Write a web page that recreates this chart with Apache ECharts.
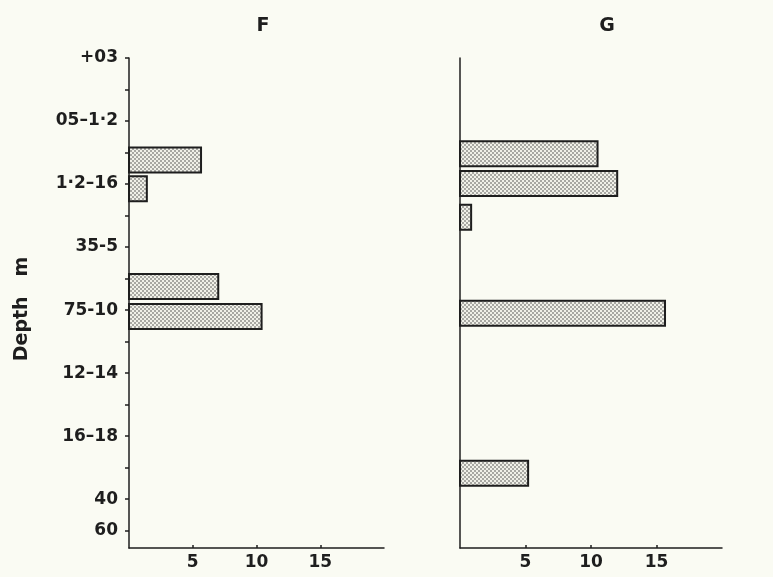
<!DOCTYPE html>
<html>
<head>
<meta charset="utf-8">
<script src="https://cdn.jsdelivr.net/npm/echarts@6/dist/echarts.min.js"></script>
<style>
html,body{margin:0;padding:0;background:#fafbf3;}
#c{width:773px;height:577px;}
</style>
</head>
<body>
<div id="c"></div>
<script>
// ---- data ----
const depthTickLabels = ['+03', '05–1·2', '1·2–16', '35-5', '75-10', '12–14', '16–18', '40', '60'];
const depthTickPos    = [0, 2, 4, 6, 8, 10, 12, 14, 15];
const depthMinorTicks = [0, 1, 2, 3, 4, 5, 6, 7, 8, 9, 10, 11, 12, 13, 14, 15];
const xTickValues     = [5, 10, 15];

const fValues   = [5.65, 1.4, 7.0, 10.4];
const fDepthPos = [3.24, 4.15, 7.25, 8.2];

const gValues   = [10.5, 12.0, 0.85, 15.65, 5.2];
const gDepthPos = [3.04, 3.98, 5.05, 8.1, 13.18];

const panelTitles = ['F', 'G'];
const yAxisTitle = 'Depth   m';

// ---- style ----
const INK = '#1e1e1e';
const FONT = '"DejaVu Sans", "Liberation Sans", Arial, sans-serif';

function makePattern() {
  const c = document.createElement('canvas');
  c.width = 4; c.height = 4;
  const ctx = c.getContext('2d');
  ctx.fillStyle = '#f0f0e8';
  ctx.fillRect(0, 0, 4, 4);
  ctx.fillStyle = '#4a4a4a';
  ctx.beginPath(); ctx.arc(1, 1, 0.8, 0, Math.PI * 2); ctx.fill();
  ctx.beginPath(); ctx.arc(3, 3, 0.8, 0, Math.PI * 2); ctx.fill();
  return c;
}
const pattern = { image: makePattern(), repeat: 'repeat' };

function toPairs(vals, pos) { return vals.map((v, i) => [v, pos[i]]); }

function renderBar(params, api) {
  const v = api.value(0), p = api.value(1);
  const a = api.coord([0, p]);
  const b = api.coord([v, p]);
  const h = 25;
  return {
    type: 'rect',
    shape: { x: a[0], y: a[1] - h / 2, width: b[0] - a[0], height: h },
    style: { fill: pattern, stroke: INK, lineWidth: 2 }
  };
}

const yBase = {
  type: 'value', inverse: true, min: 0, max: 15.55,
  splitLine: { show: false },
  axisLine: { show: true, lineStyle: { color: INK, width: 1.5 } }
};
const xBase = {
  type: 'value', min: 0, max: 20, interval: 5,
  splitLine: { show: false },
  axisLine: { show: true, onZero: false, lineStyle: { color: INK, width: 1.5 } },
  axisTick: { show: true, inside: true, length: 3, customValues: xTickValues, lineStyle: { color: INK, width: 1.5 } },
  axisLabel: {
    customValues: xTickValues, margin: 6,
    fontFamily: FONT, fontWeight: 'bold', fontSize: 17, color: INK
  }
};

const option = {
  backgroundColor: '#fafbf3',
  animation: false,
  grid: [
    { left: 129, top: 58, width: 255, height: 490 },
    { left: 460, top: 58, width: 262, height: 490 }
  ],
  xAxis: [
    Object.assign({ gridIndex: 0 }, xBase),
    Object.assign({ gridIndex: 1 }, xBase)
  ],
  yAxis: [
    Object.assign({ gridIndex: 0 }, yBase, {
      axisTick: { show: true, length: 4, customValues: depthMinorTicks, lineStyle: { color: INK, width: 1.5 } },
      axisLabel: {
        customValues: depthTickPos, margin: 11,
        padding: [0, 0, 8, 0],
        fontFamily: FONT, fontWeight: 'bold', fontSize: 17, color: INK,
        formatter: function (val) {
          const i = depthTickPos.findIndex(p => Math.abs(p - val) < 1e-6);
          return i >= 0 ? depthTickLabels[i] : '';
        }
      }
    }),
    Object.assign({ gridIndex: 1 }, yBase, {
      axisTick: { show: false },
      axisLabel: { show: false }
    })
  ],
  graphic: [
    { type: 'text', x: 263, y: 26, style: { text: panelTitles[0], align: 'center', verticalAlign: 'middle', font: 'bold 19px ' + FONT, fill: INK } },
    { type: 'text', x: 607, y: 26, style: { text: panelTitles[1], align: 'center', verticalAlign: 'middle', font: 'bold 19px ' + FONT, fill: INK } },
    { type: 'text', x: 22, y: 309, rotation: Math.PI / 2, style: { text: yAxisTitle, align: 'center', verticalAlign: 'middle', font: 'bold 19px ' + FONT, fill: INK } }
  ],
  series: [
    { type: 'custom', xAxisIndex: 0, yAxisIndex: 0, encode: { x: 0, y: 1 }, data: toPairs(fValues, fDepthPos), renderItem: renderBar },
    { type: 'custom', xAxisIndex: 1, yAxisIndex: 1, encode: { x: 0, y: 1 }, data: toPairs(gValues, gDepthPos), renderItem: renderBar }
  ]
};

const chart = echarts.init(document.getElementById('c'), null, { renderer: 'canvas' });
chart.setOption(option);
</script>
</body>
</html>
